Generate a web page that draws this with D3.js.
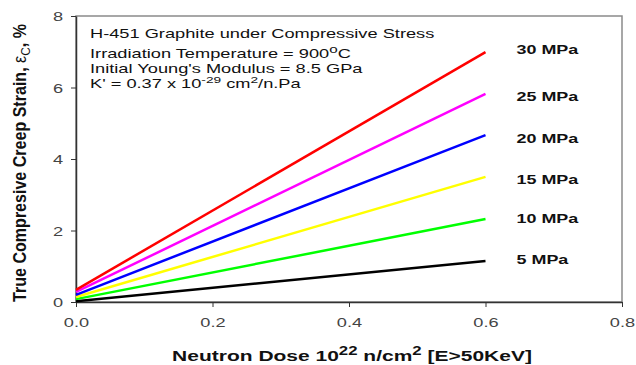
<!DOCTYPE html>
<html>
<head>
<meta charset="utf-8">
<script src="https://cdn.jsdelivr.net/npm/d3@7"></script>
<style>
  body { margin: 0; background: #fff; }
  text { font-family: "Liberation Sans", Arial, sans-serif; }
</style>
</head>
<body>
<div id="chart"></div>
<script>
// data: strain at dose 0 and dose 0.6
var stresses = ["5 MPa", "10 MPa", "15 MPa", "20 MPa", "25 MPa", "30 MPa"];
var doses = [0.0, 0.6];
var strainStart = [0.02, 0.08, 0.14, 0.2, 0.28, 0.34];
var strainEnd = [1.15, 2.32, 3.5, 4.67, 5.82, 6.99];
var lineColors = ["#000000", "#00ff00", "#ffff00", "#0000ff", "#ff00ff", "#ff0000"];
var xTicks = [0.0, 0.2, 0.4, 0.6, 0.8];
var yTicks = [0, 2, 4, 6, 8];

//the original picture is stretched sideways, so text gets a horizontal scale
var SX = 1.4;

//setting dimensions and margins
var margin = {top: 16, right: 14, bottom: 63, left: 76},
    width = 636 - margin.left - margin.right,
    height = 365 - margin.top - margin.bottom;

var svg = d3.select('#chart')
  .append('svg')
  .attr('width', 636)
  .attr('height', 365)
  .append('g')
  .attr('transform', 'translate(' + margin.left + ',' + margin.top + ')');

var x = d3.scaleLinear().domain([0, 0.8]).range([0, width]);
var y = d3.scaleLinear().domain([0, 8]).range([height, 0]);

function place(px, py, sx) {
  return 'translate(' + px + ',' + py + ') scale(' + sx + ',1)';
}

//frame
svg.append('rect')
  .attr('width', width)
  .attr('height', height)
  .attr('fill', 'none')
  .attr('stroke', '#8a8a8a')
  .attr('stroke-width', 1.5);

//axes
var xAxis = svg.append('g')
  .attr('transform', 'translate(0,' + height + ')')
  .call(d3.axisBottom(x).tickValues(xTicks).tickFormat(d3.format('.1f')).tickSize(5).tickSizeOuter(0));
var yAxis = svg.append('g')
  .call(d3.axisLeft(y).tickValues(yTicks).tickFormat(d3.format('d')).tickSize(5).tickSizeOuter(0));

[xAxis, yAxis].forEach(function(a) {
  a.select('.domain').attr('stroke', '#333').attr('stroke-width', 1.5);
  a.selectAll('.tick line').attr('stroke', '#333');
  a.selectAll('.tick text')
    .style('font-family', '"Liberation Sans", Arial, sans-serif')
    .style('font-size', '13px')
    .attr('fill', '#444');
});
xAxis.selectAll('.tick text')
  .attr('y', 0).attr('dy', 0)
  .attr('transform', place(0, 25, SX));
yAxis.selectAll('.tick text')
  .attr('x', 0).attr('dy', '0.36em')
  .attr('transform', place(-13, 0, SX));

//lines
var line = d3.line()
  .x(function(d) { return x(d[0]); })
  .y(function(d) { return y(d[1]); });

var labelShift = [3, 4, 7, 8, 7, 2];
stresses.forEach(function(s, i) {
  var pts = [[doses[0], strainStart[i]], [doses[1], strainEnd[i]]];
  svg.append('path')
    .datum(pts)
    .attr('d', line)
    .attr('fill', 'none')
    .attr('stroke', lineColors[i])
    .attr('stroke-width', 2.5);
  svg.append('text')
    .attr('transform', place(x(0.6) + 31, y(strainEnd[i]) + labelShift[i], 1.38))
    .attr('font-size', '13px')
    .attr('font-weight', 'bold')
    .attr('fill', '#111')
    .text(s);
});

//annotation
var notes = svg.append('g')
  .attr('transform', place(14, 0, 1.52))
  .attr('font-size', '12px')
  .attr('fill', '#111');
notes.append('text').attr('y', 22).text('H-451 Graphite under Compressive Stress');
var t2 = notes.append('text').attr('y', 42);
t2.append('tspan').text('Irradiation Temperature = 900');
t2.append('tspan').attr('dy', -5).attr('font-size', '10px').text('o');
t2.append('tspan').attr('dy', 5).text('C');
notes.append('text').attr('y', 57).text("Initial Young's Modulus = 8.5 GPa");
var t4 = notes.append('text').attr('y', 72);
t4.append('tspan').text("K' = 0.37 x 10");
t4.append('tspan').attr('dy', -5).attr('font-size', '9px').text('-29');
t4.append('tspan').attr('dy', 5).text(' cm');
t4.append('tspan').attr('dy', -5).attr('font-size', '9px').text('2');
t4.append('tspan').attr('dy', 5).text('/n.Pa');

//x axis title
var xt = svg.append('text')
  .attr('transform', place(width / 2 + 3, height + 59, SX))
  .attr('text-anchor', 'middle')
  .attr('font-size', '15px')
  .attr('font-weight', 'bold')
  .attr('fill', '#111');
xt.append('tspan').text('Neutron Dose 10');
xt.append('tspan').attr('dy', -6).attr('font-size', '12px').text('22');
xt.append('tspan').attr('dy', 6).text(' n/cm');
xt.append('tspan').attr('dy', -6).attr('font-size', '12px').text('2');
xt.append('tspan').attr('dy', 6).text(' [E>50KeV]');

//y axis title
var yt = svg.append('text')
  .attr('transform', 'translate(' + (-50) + ',' + (height / 2 + 4) + ') rotate(-90) scale(1.07,1.2)')
  .attr('text-anchor', 'middle')
  .attr('font-size', '15px')
  .attr('font-weight', 'bold')
  .attr('fill', '#111');
yt.append('tspan').text('True Compresive Creep Strain, ');
yt.append('tspan').attr('font-weight', 'normal').text('ε');
yt.append('tspan').attr('dy', 3).attr('font-size', '11px').attr('font-weight', 'normal').text('C');
yt.append('tspan').attr('dy', -3).text(', %');
</script>
</body>
</html>
